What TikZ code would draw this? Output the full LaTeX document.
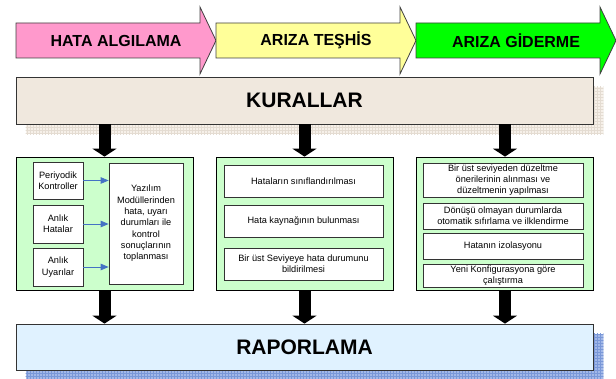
\documentclass[tikz,border=0pt]{standalone}
\usepackage{fontspec}
\setmainfont{Liberation Sans}
\usetikzlibrary{arrows.meta,patterns,backgrounds}
\definecolor{hatapembe}{RGB}{255,153,204}
\definecolor{teshissari}{RGB}{255,255,153}
\definecolor{gidermeyesil}{RGB}{0,255,0}
\definecolor{kuralrenk}{RGB}{240,232,222}
\definecolor{sutunyesil}{RGB}{204,255,204}
\definecolor{raporrenk}{RGB}{224,242,255}
\definecolor{okmavi}{RGB}{68,114,196}
\definecolor{kumgolge}{RGB}{246,240,233}
\definecolor{kumcizgi}{RGB}{228,220,210}
\definecolor{mavigolge}{RGB}{162,184,232}
\definecolor{mavicizgi}{RGB}{122,152,216}
\begin{document}
\begin{tikzpicture}[x=1pt,y=-1pt,
  faz/.style={draw=black!75,line width=0.8pt},
  baslik/.style={font=\fontsize{16}{19}\selectfont\bfseries},
  buyuk/.style={draw=black!80,line width=0.8pt,minimum width=577pt,font=\fontsize{21}{25}\selectfont\bfseries},
  sutun/.style={draw=black,line width=0.8pt,fill=sutunyesil,minimum width=177pt,minimum height=133pt},
  kutu/.style={draw=black!80,line width=0.7pt,fill=white,inner sep=1pt,align=center,font=\fontsize{9.2}{11.3}\selectfont},
  kalin/.style={line width=12pt,-{Triangle[length=8pt,width=24pt]}},
  mavi/.style={draw=okmavi,line width=0.8pt,-{Triangle[length=8pt,width=6.5pt]}},
  golge/.style 2 args={fill=#1,postaction={pattern=grid,pattern color=#2}}]%asamalar
\useasboundingbox (0,0) rectangle (616,379);
\foreach \x/\renk/\yazi [count=\i] in {16/hatapembe/HATA ALGILAMA,216/teshissari/ARIZA TEŞHİS,416/gidermeyesil/ARIZA GİDERME}
  \draw[faz,fill=\renk] (\x,23) -- ++(184,0) -- ++(0,-16) -- ++(16,33.5) -- ++(-16,33.5) -- ++(0,-16) -- ++(-184,0) -- cycle
  (\x+100,40.5) node[baslik] (faz\i) {\yazi};
\node[buyuk,fill=kuralrenk,minimum height=47pt] (kurallar) at (304.5,100.5) {KURALLAR};
\node[buyuk,fill=raporrenk,minimum height=46pt] (rapor) at (304.5,347) {RAPORLAMA};
\node[sutun] (s1) at (104.5,223.5) {};
\node[sutun] (s2) at (304.5,223.5) {};
\node[sutun] (s3) at (505,223.5) {};
%hata algilama
\node[kutu,minimum width=50pt,minimum height=37pt] (p1) at (58,180.5) {Periyodik\\Kontroller};
\node[kutu,minimum width=50pt,minimum height=38pt] (p2) at (58,224) {Anlık\\Hatalar};
\node[kutu,minimum width=50pt,minimum height=38pt] (p3) at (58,267) {Anlık\\Uyarılar};
\node[kutu,minimum width=74pt,minimum height=121pt] (t) at (146,223.5) {Yazılım\\Modüllerinden\\hata, uyarı\\durumları ile\\kontrol\\sonuçlarının\\toplanması};
%ariza teshis
\node[kutu,minimum width=159pt,minimum height=32pt] (d1) at (303.5,181) {Hataların sınıflandırılması};
\node[kutu,minimum width=159pt,minimum height=32pt] (d2) at (303.5,221) {Hata kaynağının bulunması};
\node[kutu,minimum width=159pt,minimum height=32pt] (d3) at (303.5,264) {Bir üst Seviyeye hata durumunu\\bildirilmesi};
%ariza giderme
\node[kutu,minimum width=160pt,minimum height=34pt] (g1) at (503,180) {Bir üst seviyeden düzeltme\\önerilerinin alınması ve\\düzeltmenin yapılması};
\node[kutu,minimum width=160pt,minimum height=26pt] (g2) at (503,216) {Dönüşü olmayan durumlarda\\otomatik sıfırlama ve ilklendirme};
\node[kutu,minimum width=160pt,minimum height=26pt] (g3) at (503,246) {Hatanın izolasyonu};
\node[kutu,minimum width=160pt,minimum height=23pt] (g4) at (503,275.5) {Yeni Konfigurasyona göre\\çalıştırma};
\foreach \p in {p1,p2,p3} \draw[mavi] (\p.east) -- (\p.east -| t.west);
\foreach \s in {s1,s2,s3} {
  \draw[kalin] (kurallar.south -| \s.north) -- (\s.north);
  \draw[kalin] (\s.south) -- (rapor.north -| \s.south);
}
\begin{scope}[on background layer]
\path[golge={kumgolge}{kumcizgi}] ([shift={(10,10)}]kurallar.north west) rectangle ([shift={(10,10)}]kurallar.south east);
\path[golge={mavigolge}{mavicizgi}] ([shift={(10,10)}]rapor.north west) rectangle ([shift={(10,10)}]rapor.south east);
\end{scope}
\end{tikzpicture}
\end{document}
